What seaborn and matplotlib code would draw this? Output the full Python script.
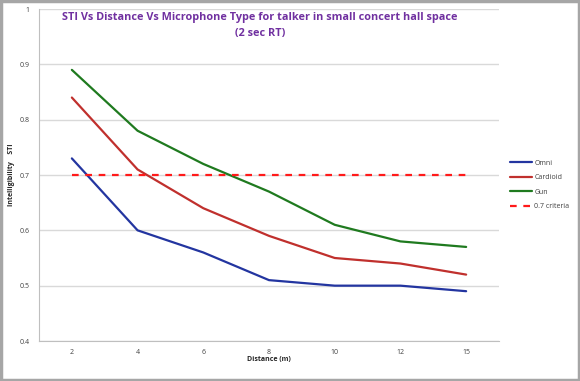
import pandas as pd
import numpy as np
import matplotlib
matplotlib.use('Agg')
import matplotlib.pyplot as plt
import seaborn as sns

distances = ['2', '4', '6', '8', '10', '12', '15']
omni = [0.73, 0.60, 0.56, 0.51, 0.50, 0.50, 0.49]
cardioid = [0.84, 0.71, 0.64, 0.59, 0.55, 0.54, 0.52]
gun = [0.89, 0.78, 0.72, 0.67, 0.61, 0.58, 0.57]
criteria = [0.7] * len(distances)

series_names = ['Omni', 'Cardioid', 'Gun', '0.7 criteria']
colors = ['#2335A0', '#C0302D', '#1F7A1F', '#FF1A1A']

rows = []
for name, vals in zip(series_names, [omni, cardioid, gun, criteria]):
    for i, v in enumerate(vals):
        rows.append({'pos': i, 'Distance': distances[i], 'STI': v, 'Series': name})
df = pd.DataFrame(rows)

sns.set_style('white')
plt.rcParams['font.family'] = ['Open Sans', 'DejaVu Sans']

fig = plt.figure(figsize=(5.8, 3.81), dpi=100)
ax = fig.add_axes([39 / 580, 1 - 341 / 381, 460 / 580, 332 / 381])

sns.lineplot(data=df, x='pos', y='STI', hue='Series', style='Series',
             palette=colors, dashes={'Omni': '', 'Cardioid': '', 'Gun': '', '0.7 criteria': (3, 3)},
             linewidth=1.6, ax=ax, legend=True)

ax.set_xlim(-0.5, len(distances) - 0.5)
ax.set_ylim(0.4, 1.0)
ax.set_yticks(np.arange(0.4, 1.01, 0.1))
ax.set_yticklabels(['0.4', '0.5', '0.6', '0.7', '0.8', '0.9', '1'])
ax.set_xticks(range(len(distances)))
ax.set_xticklabels(distances)
ax.set_xticks(np.arange(-0.5, len(distances), 1), minor=True)
ax.tick_params(axis='x', which='major', length=0, labelsize=5, colors='#404040', pad=6)
ax.tick_params(axis='x', which='minor', length=3, color='#BFBFBF', direction='out')
ax.tick_params(axis='y', length=3, color='#BFBFBF', labelsize=5, colors='#404040', direction='out', pad=4)
ax.grid(axis='y', color='#D9D9D9', linewidth=1)
for s in ['top', 'right']:
    ax.spines[s].set_visible(False)
for s in ['left', 'bottom']:
    ax.spines[s].set_color('#BFBFBF')
    ax.spines[s].set_linewidth(0.8)

ax.set_xlabel('Distance (m)', fontsize=5, fontweight='bold', labelpad=0)
ax.set_ylabel('Intelligibility    STI', fontsize=5, fontweight='bold', labelpad=3)

ax.text(0.48, 0.99, 'STI Vs Distance Vs Microphone Type for talker in small concert hall space\n(2 sec RT)',
        transform=ax.transAxes, ha='center', va='top', fontsize=7.8, fontweight='bold',
        color='#7030A0', linespacing=1.6)

leg = ax.legend(loc='center left', bbox_to_anchor=(1.01, 0.47), frameon=False,
                fontsize=5, handlelength=3.2, handletextpad=0.3, labelspacing=1.1)
for t in leg.get_texts():
    t.set_color('#404040')

border = plt.Rectangle((0.002, 0.003), 0.996, 0.994, transform=fig.transFigure,
                       fill=False, edgecolor='#A6A6A6', linewidth=2.5)
fig.patches.append(border)

fig.savefig('out.png', dpi=100, facecolor='white')
